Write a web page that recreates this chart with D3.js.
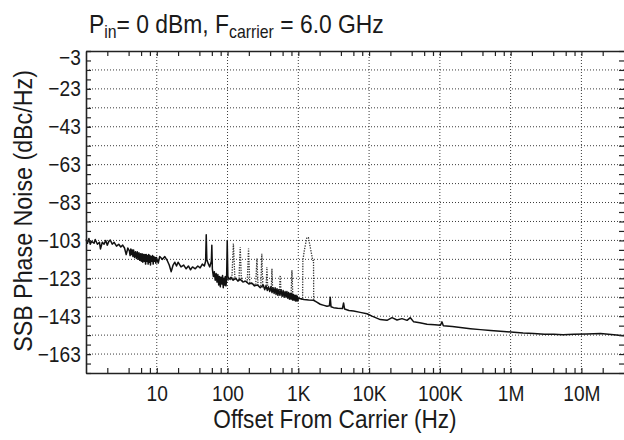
<!DOCTYPE html>
<html>
<head>
<meta charset="utf-8">
<script src="https://cdn.jsdelivr.net/npm/d3@7"></script>
<style>
  html, body { margin: 0; padding: 0; background: #fff; }
  svg { display: block; }
  text { font-family: "Liberation Sans", Arial, sans-serif; fill: #1a1a1a; }
</style>
</head>
<body>
<script>
// ---------- data ----------
const xTickValues = [10, 100, 1e3, 1e4, 1e5, 1e6, 1e7];
const xTickLabels = ["10", "100", "1K", "10K", "100K", "1M", "10M"];
const yTickValues = [-3, -23, -43, -63, -83, -103, -123, -143, -163];
const gridYValues = [-13, -23, -33, -43, -53, -63, -73, -83, -93, -103, -113, -123, -133, -143, -153, -163];

// main measured trace (solid): [offset Hz, dBc/Hz]
const solidTrace = [
  [1.0, -102.5], [1.05, -104.5], [1.1, -102], [1.15, -105], [1.2, -103.5], [1.3, -104.5], [1.35, -102.5], [1.45, -105],
  [1.55, -104], [1.6, -107.5], [1.7, -104], [1.8, -105], [1.9, -103], [2.0, -105.5], [2.1, -103.5], [2.2, -102.8],
  [2.35, -105], [2.5, -104], [2.7, -106], [2.9, -105], [3.1, -106.5], [3.3, -105.5], [3.5, -107], [3.7, -110.5],
  [3.9, -107], [4.1, -108.5], [4.2, -111], [4.3, -107.5], [4.4, -110.5], [4.5, -108], [4.6, -111.5], [4.7, -108],
  [4.85, -112], [5.0, -109], [5.15, -112.5], [5.3, -109], [5.45, -113], [5.6, -109.5], [5.75, -113.5], [5.9, -110],
  [6.05, -114], [6.2, -110], [6.35, -114.5], [6.5, -110.5], [6.65, -114], [6.8, -110.5], [6.95, -115.5], [7.1, -110.5],
  [7.25, -114], [7.4, -111], [7.55, -115.5], [7.7, -110.5], [7.85, -114.5], [8.0, -111], [8.15, -116], [8.3, -111.5],
  [8.5, -114], [8.7, -111], [8.9, -115.5], [9.1, -111.5], [9.3, -114], [9.5, -112], [9.7, -115], [9.9, -112],
  [10.5, -115], [11, -111.5], [12, -113], [13, -111.5], [14, -113.5], [15, -116], [16, -119.5], [17, -116],
  [18, -114.5], [19, -116.5], [20, -114.5], [22, -117], [24, -116], [26, -118], [28, -116.5], [30, -118.5],
  [32, -117], [35, -118], [38, -116.5], [41, -117.5], [44, -115.5], [47, -116.5], [49, -114], [50, -100],
  [51, -113], [53, -115], [56, -117], [59, -114], [60, -105.5], [61, -118], [63, -122], [65, -119.5],
  [67, -124], [69, -120.5], [71, -125], [73, -121], [75, -126.5], [77, -122], [79, -127.5], [81, -122.5],
  [83, -126], [85, -121.5], [87, -128], [89, -123], [91, -126.5], [93, -122], [95, -127], [97, -123.5],
  [99, -103], [101, -122], [105, -123.5], [112, -122.5], [120, -124], [130, -123], [140, -124.5], [150, -123.5],
  [165, -125], [180, -124.5], [200, -126], [220, -125.5], [240, -127], [265, -126.5], [290, -128], [320, -126.5],
  [335, -129], [350, -127], [365, -129.5], [380, -127.5], [395, -130], [410, -127.5], [425, -130.5], [440, -128],
  [455, -131], [470, -128], [485, -131.5], [500, -128.5], [515, -132], [530, -129], [550, -132], [570, -129],
  [590, -132.5], [610, -129.5], [630, -133], [650, -130], [670, -133], [690, -130], [710, -133.5], [730, -130.5],
  [750, -134], [770, -131], [790, -134], [810, -131], [830, -134.5], [850, -131.5], [870, -134.5], [890, -132],
  [910, -135], [930, -132], [950, -135], [970, -132.5], [985, -135], [1000, -133.5], [1200, -134.2], [1400, -134.5],
  [1640, -134.6], [1800, -135.5], [2040, -136.7], [2300, -137.3], [2540, -137.8], [2750, -137.5], [2825, -133], [2900, -138],
  [3150, -138.5], [3600, -138.8], [4200, -139], [4360, -136], [4500, -139.2], [5200, -140], [6040, -140.3], [7500, -141],
  [9340, -141.7], [11000, -143], [14400, -144.8], [17900, -145.2], [21100, -143.8], [24800, -145], [29200, -144.3], [34400, -145.2],
  [38300, -143.8], [42700, -146], [52000, -146.5], [65900, -147.3], [85000, -147.5], [102000, -147.8], [107000, -146], [112000, -148],
  [150000, -148.5], [195000, -149], [270000, -149.6], [374000, -150.1], [520000, -150.6], [718000, -151], [1.11e6, -151.5], [1.5e6, -151.9],
  [2.12e6, -152.2], [3e6, -152.5], [4.07e6, -152.6], [5.5e6, -152.8], [7.8e6, -152.6], [1.2e7, -152.4], [1.86e7, -152.2], [2.87e7, -152.8],
  [4.0e7, -153.3]
];

// overlaid trace with spurs (dotted): [offset Hz, dBc/Hz]
const dottedTrace = [
  [100, -124], [115, -123.5], [121, -104.7], [127, -123], [145, -124], [151, -106.5], [157, -124], [190, -125],
  [198, -107.3], [206, -125.5], [250, -126.5], [260, -112.6], [270, -127], [295, -127.5], [305, -110], [315, -128],
  [350, -128.5], [360, -117], [370, -128.5], [415, -129], [424, -118], [434, -129.5], [540, -130.5], [555, -121.4],
  [570, -130.5], [790, -132], [813, -118.8], [836, -132], [1000, -133.5], [1150, -134], [1160, -113.5], [1220, -108],
  [1320, -101.5], [1390, -101.5], [1500, -108], [1600, -113.5], [1640, -113.5], [1650, -134.6]
];

const solid = solidTrace.map(([f, v]) => ({ f, v }));
const dotted = dottedTrace.map(([f, v]) => ({ f, v }));

// ---------- layout ----------
const W = 624, H = 440;
const m = { left: 86, top: 51, right: 624, bottom: 373 };
const FONT = '"Liberation Sans", Arial, sans-serif';
const narrow = 0.87;

const svg = d3.select("body").append("svg").attr("width", W).attr("height", H);

const x = d3.scaleLog().domain([1, 4e7]).range([m.left, m.right]);
const y = d3.scaleLinear().domain([-173, -3]).range([m.bottom, m.top]);

const minorX = [];
for (let d = 1; d <= 1e7; d *= 10) [2, 4, 6, 8].forEach(k => { if (k * d < 4e7) minorX.push(k * d); });
const allY5 = d3.range(-173, -2, 5);

// gridlines
const grid = svg.append("g").attr("stroke", "#3a3a3a").attr("stroke-width", 1).attr("stroke-dasharray", "1,2");
grid.selectAll("line.h").data(gridYValues).join("line").attr("class", "h")
  .attr("x1", m.left).attr("x2", m.right).attr("y1", d => y(d)).attr("y2", d => y(d));
grid.selectAll("line.v").data(xTickValues).join("line").attr("class", "v")
  .attr("y1", m.top).attr("y2", m.bottom).attr("x1", d => x(d)).attr("x2", d => x(d));

// traces
const line = d3.line().x(d => x(d.f)).y(d => y(d.v));
svg.append("path").datum(dotted).attr("d", line)
  .attr("fill", "none").attr("stroke", "#333").attr("stroke-width", 1.3).attr("stroke-dasharray", "1.3,1.3");
svg.append("path").datum(solid).attr("d", line)
  .attr("fill", "none").attr("stroke", "#111").attr("stroke-width", 1.5).attr("stroke-linejoin", "round");

// axes
const fontSize = 22;
function styleAxis(g) {
  g.selectAll(".domain").attr("stroke", "#222").attr("stroke-width", 1.6);
  g.selectAll(".tick line").attr("stroke", "#222").attr("stroke-width", 1.2);
  g.selectAll("text").attr("font-size", fontSize).attr("fill", "#1a1a1a").attr("font-family", FONT);
}

// left
const gl = svg.append("g").attr("transform", `translate(${m.left},0)`)
  .call(d3.axisLeft(y).tickValues(yTickValues).tickSizeInner(-5).tickSizeOuter(0).tickPadding(6));
styleAxis(gl);
gl.selectAll(".tick text").attr("transform", `scale(${narrow},1)`);
gl.selectAll(".tick").filter(d => d === -3).select("text").attr("dy", "0.6em");
const glm = svg.append("g").attr("transform", `translate(${m.left},0)`)
  .call(d3.axisLeft(y).tickValues(allY5).tickSize(-5).tickFormat(""));
glm.select(".domain").remove();
styleAxis(glm);

// right
const gr = svg.append("g").attr("transform", `translate(${m.right},0)`)
  .call(d3.axisRight(y).tickValues(allY5).tickSize(-5).tickFormat(""));
gr.select(".domain").remove();
styleAxis(gr);

// bottom
const gb = svg.append("g").attr("transform", `translate(0,${m.bottom})`)
  .call(d3.axisBottom(x).tickValues(xTickValues).tickFormat((d, i) => xTickLabels[i]).tickSizeInner(-5).tickSizeOuter(0).tickPadding(12));
styleAxis(gb);
gb.selectAll(".tick text").attr("transform", `scale(${narrow},1)`);
const gbm = svg.append("g").attr("transform", `translate(0,${m.bottom})`)
  .call(d3.axisBottom(x).tickValues(minorX).tickSize(-5).tickFormat(""));
gbm.select(".domain").remove();
styleAxis(gbm);

// top
const gt = svg.append("g").attr("transform", `translate(0,${m.top})`)
  .call(d3.axisTop(x).tickValues(xTickValues.concat(minorX)).tickSizeInner(-5).tickSizeOuter(0).tickFormat(""));
styleAxis(gt);

// titles
const title = svg.append("g").attr("transform", "translate(89,33) scale(0.88,1)")
  .append("text").attr("font-size", 26).attr("font-family", FONT);
title.append("tspan").text("P");
title.append("tspan").attr("font-size", 18).attr("dy", 5).text("in");
title.append("tspan").attr("dy", -5).text("= 0 dBm, F");
title.append("tspan").attr("font-size", 18).attr("dy", 5).text("carrier");
title.append("tspan").attr("dy", -5).text(" = 6.0 GHz");

svg.append("g").attr("transform", "translate(335,428) scale(0.87,1)")
  .append("text").attr("text-anchor", "middle").attr("font-size", 26).attr("font-family", FONT)
  .text("Offset From Carrier (Hz)");

svg.append("g").attr("transform", "translate(32,211) rotate(-90) scale(0.895,1)")
  .append("text").attr("text-anchor", "middle").attr("font-size", 26).attr("font-family", FONT)
  .text("SSB Phase Noise (dBc/Hz)");
</script>
</body>
</html>
